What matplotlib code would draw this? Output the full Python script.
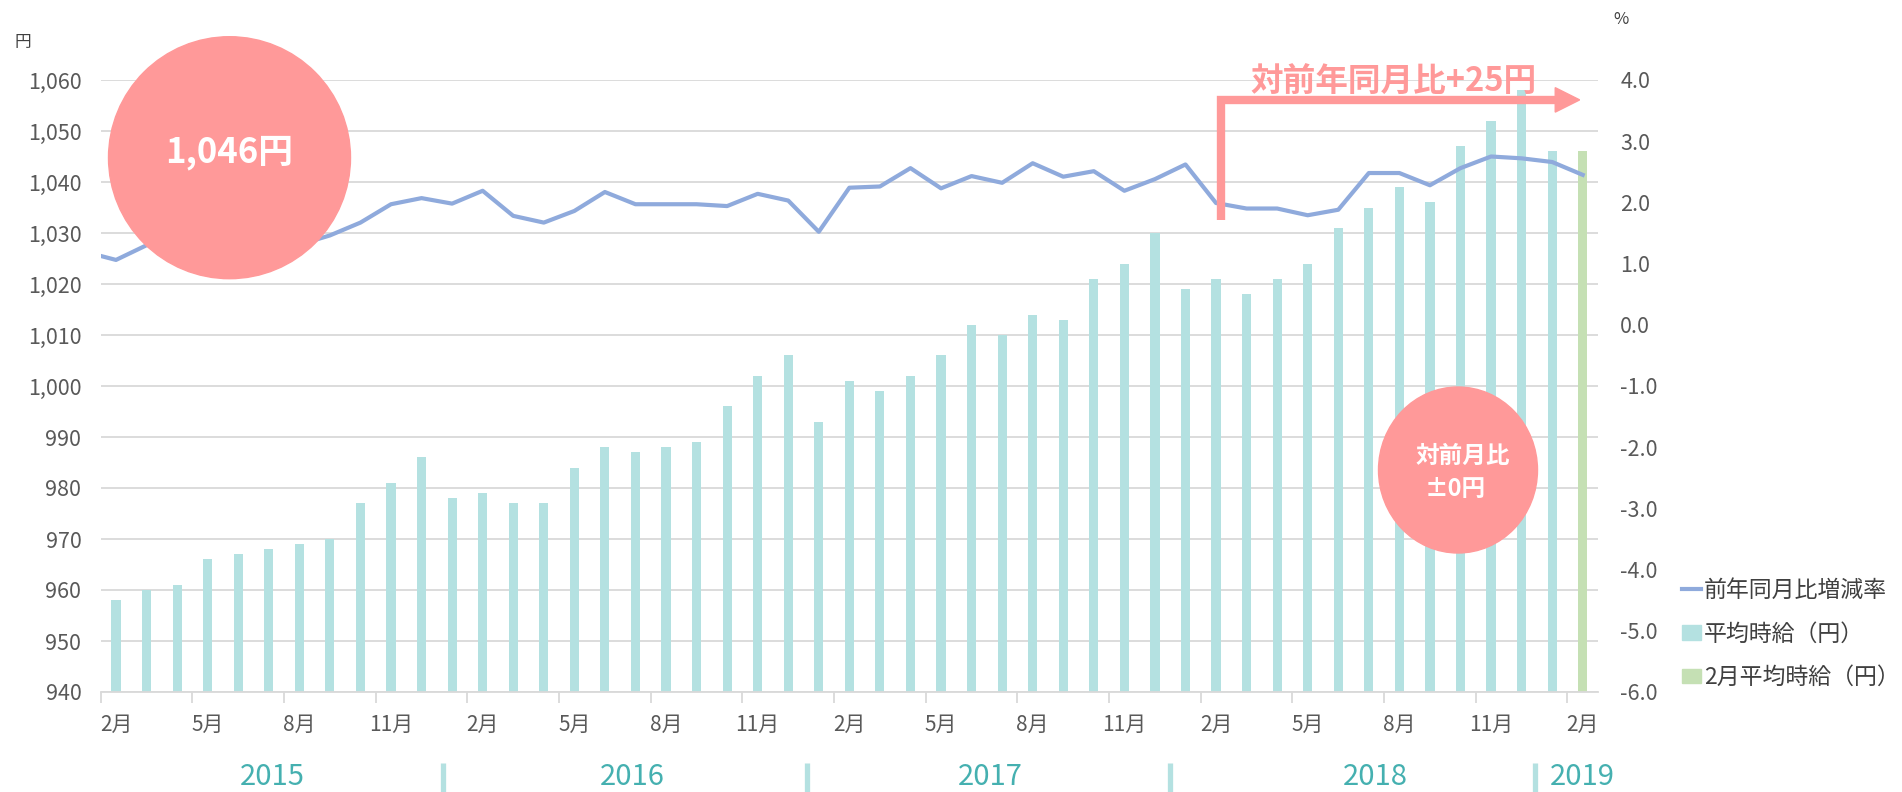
import numpy as np
import matplotlib
matplotlib.use('Agg')
import matplotlib.pyplot as plt
from matplotlib.patches import Ellipse, Polygon, Patch
from matplotlib.lines import Line2D
from matplotlib.ticker import FuncFormatter, MultipleLocator
from matplotlib.transforms import blended_transform_factory

plt.rcParams['font.family'] = ['Noto Sans CJK JP', 'DejaVu Sans']

# 平均時給（円） 2015年2月〜2019年1月
wage = [958, 960, 961, 966, 967, 968, 969, 970, 977, 981, 986, 978,
        979, 977, 977, 984, 988, 987, 988, 989, 996, 1002, 1006, 993,
        1001, 999, 1002, 1006, 1012, 1010, 1014, 1013, 1021, 1024, 1030, 1019,
        1021, 1018, 1021, 1024, 1031, 1035, 1039, 1036, 1047, 1052, 1058, 1046]
# 2019年2月
wage_feb = [1046]
# 前年同月比増減率（%） 2015年1月〜2019年2月
yoy = [1.19, 1.06, 1.30, 1.38, 1.40, 1.35, 1.30, 1.31, 1.46, 1.67, 1.97, 2.07,
       1.98, 2.19, 1.78, 1.67, 1.86, 2.17, 1.97, 1.97, 1.97, 1.94, 2.14, 2.03,
       1.52, 2.24, 2.26, 2.56, 2.23, 2.43, 2.32, 2.64, 2.42, 2.51, 2.19, 2.38,
       2.62, 1.99, 1.90, 1.90, 1.79, 1.88, 2.48, 2.48, 2.28, 2.56, 2.75, 2.72,
       2.66, 2.45]
month_labels = ['2月', '5月', '8月', '11月'] * 4 + ['2月']
years = ['2015', '2016', '2017', '2018', '2019']

TEAL = '#B4E1E1'
GREEN = '#C5E0B4'
BLUE = '#8FAADC'
PINK = '#FF9999'
GRID = '#D9D9D9'
TXT = '#595959'

W, H = 1902, 792
fig = plt.figure(figsize=(W / 100, H / 100), dpi=100)
ax = fig.add_axes([100.7 / W, 1 - 692 / H, 1497.3 / W, 612 / H])


def px(x, y):
    # pixel position (from top-left) -> inches for fig.dpi_scale_trans
    return x / 100, (H - y) / 100


n = len(wage)
ax.bar(np.arange(n), wage, width=0.3, color=TEAL, zorder=2)
ax.bar([n], wage_feb, width=0.3, color=GREEN, zorder=2)
ax.set_xlim(-0.5, n + 0.5)
ax.set_ylim(940, 1060)
ax.yaxis.set_major_locator(MultipleLocator(10))
ax.yaxis.set_major_formatter(FuncFormatter(lambda v, p: f'{v:,.0f}'))
ax.grid(axis='y', color=GRID, lw=1.3)
ax.set_axisbelow(True)
for s in ['top', 'right', 'left']:
    ax.spines[s].set_visible(False)
ax.spines['bottom'].set_color(GRID)
ax.spines['bottom'].set_linewidth(1.3)

ax.set_xticks(np.arange(-0.5, n, 3))
ax.set_xticklabels([])
ax.set_xticks(np.arange(0, n + 1, 3), minor=True)
ax.set_xticklabels(month_labels, minor=True)
ax.tick_params(axis='x', which='major', length=8, color=GRID, width=1.3)
ax.tick_params(axis='x', which='minor', length=0, pad=16, labelsize=15, labelcolor=TXT)
ax.tick_params(axis='y', length=0, pad=14, labelsize=15.5, labelcolor=TXT)

ax2 = ax.twinx()
ax2.plot(np.arange(-1, n + 1), yoy, color=BLUE, lw=3, zorder=3)
ax2.set_ylim(-6, 4)
ax2.yaxis.set_major_locator(MultipleLocator(1))
ax2.yaxis.set_major_formatter(FuncFormatter(lambda v, p: f'{v:.1f}'))
ax2.tick_params(axis='y', length=0, pad=16, labelsize=15.5, labelcolor=TXT)
for s in ax2.spines.values():
    s.set_visible(False)

# 対前年同月比の矢印（2018年2月 → 2019年2月）
ax2.add_artist(Line2D([36.15, 36.15, 47.2], [1032.5, 1056.1, 1056.1], color=PINK, lw=6,
                      solid_joinstyle='miter', solid_capstyle='butt',
                      transform=ax.transData, clip_on=False, zorder=5))
ax2.add_artist(Polygon([[47.1, 1058.5], [47.9, 1056.1], [47.1, 1053.7]], closed=True,
                       color=PINK, transform=ax.transData, clip_on=False, zorder=5))
ax2.text(41.8, 1059.6, '対前年同月比+25円', color=PINK, fontsize=23.5, fontweight='bold',
         ha='center', va='center', transform=ax.transData, zorder=6)

# 丸の注記
fig.add_artist(Ellipse(px(229.5, 157.7), 2.42, 2.42, color=PINK,
                       transform=fig.dpi_scale_trans, zorder=5))
fig.text(*px(229.5, 152), '1,046円', color='white', fontsize=25, fontweight='bold',
         ha='center', va='center', transform=fig.dpi_scale_trans, zorder=6)
fig.add_artist(Ellipse(px(1458, 470), 1.59, 1.66, color=PINK,
                       transform=fig.dpi_scale_trans, zorder=5))
fig.text(*px(1463, 456), '対前月比', color='white', fontsize=17, fontweight='bold',
         ha='center', va='center', transform=fig.dpi_scale_trans, zorder=6)
fig.text(*px(1455, 489), '±0円', color='white', fontsize=17, fontweight='bold',
         ha='center', va='center', transform=fig.dpi_scale_trans, zorder=6)

# 単位
fig.text(*px(23, 42), '円', fontsize=12, color='#404040', ha='center', va='center',
         transform=fig.dpi_scale_trans)
fig.text(*px(1621, 20), '%', fontsize=12, color='#404040', ha='center', va='center',
         transform=fig.dpi_scale_trans)

# 年の区切り
btr = blended_transform_factory(ax.transData, fig.dpi_scale_trans)
for sx in [10.7, 22.6, 34.5, 46.45]:
    ax.add_artist(Line2D([sx, sx], [0, 0.29], color=TEAL, lw=3.8, transform=btr,
                         clip_on=False, solid_capstyle='butt'))
for yx, yr in zip([5.1, 16.9, 28.6, 41.2, 48.0], years):
    ax.text(yx, 0.15, yr, fontsize=21, color='#45B0B0', ha='center', va='center',
            transform=btr, clip_on=False)

handles = [Line2D([], [], color=BLUE, lw=3), Patch(color=TEAL), Patch(color=GREEN)]
labels = ['前年同月比増減率', '平均時給（円）', '2月平均時給（円）']
fig.legend(handles, labels, loc='upper left', bbox_to_anchor=(1682 / W, 1 - 579 / H),
           frameon=False, fontsize=16.5, handlelength=0.85, handleheight=0.6,
           handletextpad=0.1, labelspacing=0.9, borderpad=0, borderaxespad=0,
           labelcolor='#404040')

fig.savefig('out.png', dpi=100)
